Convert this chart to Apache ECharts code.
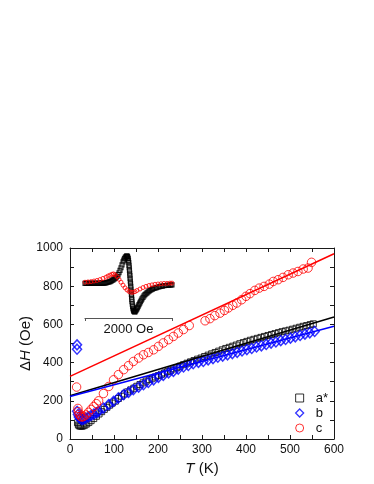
<!DOCTYPE html>
<html><head><meta charset="utf-8">
<script src="https://cdn.jsdelivr.net/npm/echarts@6/dist/echarts.min.js"></script>
<style>html,body{margin:0;padding:0;background:#fff}#c{width:374px;height:484px}</style>
</head><body><div id="c"></div>
<script>
// ---- tick labels ----
const xTickLabels = [0, 100, 200, 300, 400, 500, 600];
const yTickLabels = [0, 200, 400, 600, 800, 1000];

// ---- series: a* (black squares) ----
const aT = [17,19,21,24,27,30,34,38,43,48,54,60,66,72,78,84,90,96,103,110,117,124,131,138,145,152,159,166,173,180,187,194,201,208,215,222,229,236,243,250,258,266,274,282,290,298,306,314,322,330,338,346,354,362,370,378,386,394,402,410,418,426,434,442,450,458,466,474,482,490,498,506,514,522,530,538,546,553];
const aH = [85,74,69,67,67,69,73,79,87,96,107,119,131,143,155,166,177,188,198,212,224,236,247,257,266,276,285,294,303,311,318,325,332,339,346,353,360,367,374,381,389,397,404,411,418,424,432,439,446,453,460,467,474,480,486,492,499,505,511,517,522,527,532,537,542,547,552,557,562,566,570,575,580,585,590,594,599,603];

// ---- series: b (blue diamonds) ----
const bT = [16,16,16,18,20,23,27,31,36,42,48,54,60,65,76,88,99,110,122,133,144,156,167,178,190,201,212,224,235,246,258,269,280,292,303,314,325,336,347,358,369,380,391,402,413,424,435,446,457,468,479,490,501,512,523,534,545,556];
const bH = [493,470,145,128,115,106,102,104,109,116,124,130,137,145,162,180,197,215,232,244,258,272,284,296,310,323,333,346,354,366,377,385,394,401,406,414,421,428,434,441,447,454,461,468,474,482,488,495,502,508,515,521,528,535,542,549,556,563];

// ---- series: c (red circles) ----
const cT = [15,18,19,21,24,27,31,36,42,48,54,60,65,76,88,99,110,122,133,144,156,167,178,190,201,212,224,235,246,258,271,307,318,329,341,351,360,370,379,390,400,409,420,430,441,453,462,473,484,496,507,518,530,541,549];
const cH = [272,160,143,129,119,115,118,126,140,155,170,185,200,238,275,310,337,363,384,406,424,441,453,467,485,503,520,537,555,573,594,619,630,646,659,673,686,700,712,729,747,761,778,790,799,811,825,834,846,860,869,877,890,895,925];

// ---- linear fits ----
const fitT = [0, 600];
const fitA = [226, 639];
const fitB = [223, 590];
const fitC = [328, 970];

// ---- inset: ESR derivative lineshapes ----
const insetBarLabel = '2000 Oe';
const insetAField = [0,25,46,70,92,115,138,160,184,207,230,253,276,299,322,345,368,391,414,437,460,483,506,529,552,575,598,621,644,667,690,713,736,759,782,805,828,851,874,891,908,925,943,955,966,976,985,993,1000,1006,1012,1017,1022,1027,1032,1037,1042,1047,1052,1057,1062,1067,1071,1076,1080,1087,1094,1102,1110,1118,1126,1137,1149,1163,1177,1192,1207,1224,1241,1258,1276,1293,1310,1333,1356,1379,1402,1425,1448,1471,1494,1523,1552,1580,1609,1643,1678,1712,1747,1781,1816,1850,1885,1920,1954,1977,2000];
const insetA = [0.02,0.02,0.02,0.02,0.02,0.02,0.02,0.02,0.02,0.02,0.02,0.02,0.02,0.02,0.02,0.02,0.03,0.03,0.03,0.03,0.04,0.04,0.05,0.06,0.07,0.08,0.1,0.12,0.14,0.16,0.19,0.22,0.26,0.32,0.38,0.46,0.55,0.65,0.75,0.81,0.86,0.9,0.93,0.94,0.95,0.93,0.9,0.86,0.8,0.72,0.63,0.55,0.46,0.37,0.28,0.19,0.1,0.01,-0.08,-0.17,-0.26,-0.35,-0.44,-0.52,-0.6,-0.68,-0.76,-0.82,-0.87,-0.9,-0.93,-0.94,-0.94,-0.91,-0.88,-0.84,-0.8,-0.75,-0.7,-0.65,-0.6,-0.55,-0.5,-0.45,-0.4,-0.36,-0.33,-0.3,-0.27,-0.24,-0.22,-0.19,-0.17,-0.15,-0.14,-0.12,-0.11,-0.09,-0.08,-0.07,-0.06,-0.05,-0.05,-0.04,-0.04,-0.03,-0.03];
const insetCField = [0,69,138,207,276,345,414,483,529,575,621,655,690,736,782,828,874,920,966,1011,1057,1103,1149,1195,1264,1333,1402,1471,1540,1609,1678,1747,1816,1885,1954,2000];
const insetC = [0.06,0.07,0.08,0.1,0.12,0.15,0.19,0.23,0.27,0.3,0.33,0.34,0.31,0.25,0.16,0.06,-0.04,-0.13,-0.2,-0.25,-0.28,-0.28,-0.26,-0.22,-0.17,-0.12,-0.08,-0.05,-0.03,-0.01,0,0.01,0.02,0.02,0.03,0.03];

const zip = (xs, ys) => xs.map((x, i) => [x, ys[i]]);

const FONT = '"Liberation Sans", Arial, sans-serif';
const AX = '#1a1a1a';
const TXT = '#111';
const xMin = xTickLabels[0], xMax = xTickLabels[xTickLabels.length-1], xInt = xTickLabels[1]-xTickLabels[0];
const yMin = yTickLabels[0], yMax = yTickLabels[yTickLabels.length-1], yInt = yTickLabels[1]-yTickLabels[0];

const tickCommon = {show: true, inside: true, length: 4, lineStyle: {color: AX, width: 1}};
const minorCommon = {show: true, splitNumber: 2, length: 4, lineStyle: {color: AX, width: 1}};
const plainNum = v => String(v);

const chart = echarts.init(document.getElementById('c'), null, {renderer: 'canvas'});
chart.setOption({
  backgroundColor: '#fff',
  animation: false,
  textStyle: {fontFamily: FONT},
  grid: [
    {left: 70, right: 40, top: 248, bottom: 45},
    {left: 85, width: 87, top: 250, height: 68}
  ],
  legend: {
    data: [
      {name: 'a*', itemStyle: {color: 'rgba(255,255,255,0)', borderColor: '#000', borderWidth: 1}},
      {name: 'b', itemStyle: {color: 'rgba(255,255,255,0)', borderColor: '#0000ff', borderWidth: 1.3}},
      {name: 'c', itemStyle: {color: 'rgba(255,255,255,0)', borderColor: '#ff0000', borderWidth: 1}}
    ],
    orient: 'vertical',
    left: 290, top: 386,
    itemWidth: 8, itemHeight: 8, itemGap: 1,
    textStyle: {fontSize: 13, color: TXT, fontFamily: FONT, padding: [0,0,0,7], lineHeight: 14},
    selectedMode: false
  },
  xAxis: [
    {gridIndex: 0, type: 'value', min: xMin, max: xMax, interval: xInt, position: 'bottom',
     axisLine: {show: true, onZero: false, lineStyle: {color: AX, width: 1}},
     axisTick: tickCommon, minorTick: minorCommon, splitLine: {show: false},
     axisLabel: {color: TXT, fontSize: 12, margin: 5, fontFamily: FONT, formatter: plainNum},
     name: '{i|T} (K)', nameLocation: 'middle', nameGap: 22, nameMoveOverlap: false,
     nameTextStyle: {fontSize: 15, color: TXT, fontFamily: FONT,
       rich: {i: {fontStyle: 'italic', fontSize: 15, fontFamily: FONT, color: TXT}}}},
    {gridIndex: 0, type: 'value', min: xMin, max: xMax, interval: xInt, position: 'top',
     axisLine: {show: true, onZero: false, lineStyle: {color: AX, width: 1}},
     axisTick: tickCommon, minorTick: minorCommon, splitLine: {show: false},
     axisLabel: {show: false}},
    {gridIndex: 1, type: 'value', min: 0, max: 2000, interval: 2000, position: 'bottom',
     axisLine: {show: true, onZero: false, lineStyle: {color: '#555', width: 1.2}},
     axisTick: {show: true, inside: false, length: 3, lineStyle: {color: '#555'}},
     splitLine: {show: false}, axisLabel: {show: false},
     name: insetBarLabel, nameLocation: 'middle', nameGap: 5,
     nameTextStyle: {fontSize: 13, color: TXT, fontFamily: FONT, verticalAlign: 'top'}}
  ],
  yAxis: [
    {gridIndex: 0, type: 'value', min: yMin, max: yMax, interval: yInt, position: 'left',
     axisLine: {show: true, onZero: false, lineStyle: {color: AX, width: 1}},
     axisTick: tickCommon, minorTick: minorCommon, splitLine: {show: false},
     axisLabel: {color: TXT, fontSize: 12, margin: 7, fontFamily: FONT, formatter: plainNum},
     name: '{n|Δ}{i|H} (Oe)', nameLocation: 'middle', nameGap: 37, nameRotate: 90, nameMoveOverlap: false,
     nameTextStyle: {fontSize: 15, color: TXT, fontFamily: FONT,
       rich: {i: {fontStyle: 'italic', fontSize: 15, fontFamily: FONT, color: TXT},
              n: {fontSize: 15, fontFamily: FONT, color: TXT}}}},
    {gridIndex: 0, type: 'value', min: yMin, max: yMax, interval: yInt, position: 'right',
     axisLine: {show: true, onZero: false, lineStyle: {color: AX, width: 1}},
     axisTick: tickCommon, minorTick: minorCommon, splitLine: {show: false},
     axisLabel: {show: false}},
    {gridIndex: 1, type: 'value', min: -1.15, max: 1.15, show: false}
  ],
  series: [
    {name: 'a*', type: 'scatter', xAxisIndex: 0, yAxisIndex: 0, data: zip(aT, aH),
     symbol: 'rect', symbolSize: 6, z: 2,
     itemStyle: {color: 'rgba(255,255,255,0)', borderColor: '#000', borderWidth: 1}},
    {name: 'b', type: 'scatter', xAxisIndex: 0, yAxisIndex: 0, data: zip(bT, bH),
     symbol: 'diamond', symbolSize: [9, 10], z: 3,
     itemStyle: {color: 'rgba(255,255,255,0)', borderColor: '#0000ff', borderWidth: 1.5}},
    {name: 'c', type: 'scatter', xAxisIndex: 0, yAxisIndex: 0, data: zip(cT, cH),
     symbol: 'circle', symbolSize: 8.5, z: 4,
     itemStyle: {color: 'rgba(255,255,255,0)', borderColor: '#ff0000', borderWidth: 1}},
    {name: 'fitA', type: 'line', xAxisIndex: 0, yAxisIndex: 0, data: zip(fitT, fitA),
     symbol: 'none', z: 5, lineStyle: {color: '#000', width: 1.5}},
    {name: 'fitB', type: 'line', xAxisIndex: 0, yAxisIndex: 0, data: zip(fitT, fitB),
     symbol: 'none', z: 6, lineStyle: {color: '#0000ff', width: 1.5}},
    {name: 'fitC', type: 'line', xAxisIndex: 0, yAxisIndex: 0, data: zip(fitT, fitC),
     symbol: 'none', z: 7, lineStyle: {color: '#ff0000', width: 1.5}},
    {name: 'insetA', type: 'scatter', xAxisIndex: 2, yAxisIndex: 2, data: zip(insetAField, insetA),
     symbol: 'rect', symbolSize: 4, z: 8,
     itemStyle: {color: 'rgba(255,255,255,0)', borderColor: '#000', borderWidth: 1.2}},
    {name: 'insetC', type: 'scatter', xAxisIndex: 2, yAxisIndex: 2, data: zip(insetCField, insetC),
     symbol: 'circle', symbolSize: 4, z: 9,
     itemStyle: {color: 'rgba(255,255,255,0)', borderColor: '#ff0000', borderWidth: 1}}
  ]
});
</script></body></html>
